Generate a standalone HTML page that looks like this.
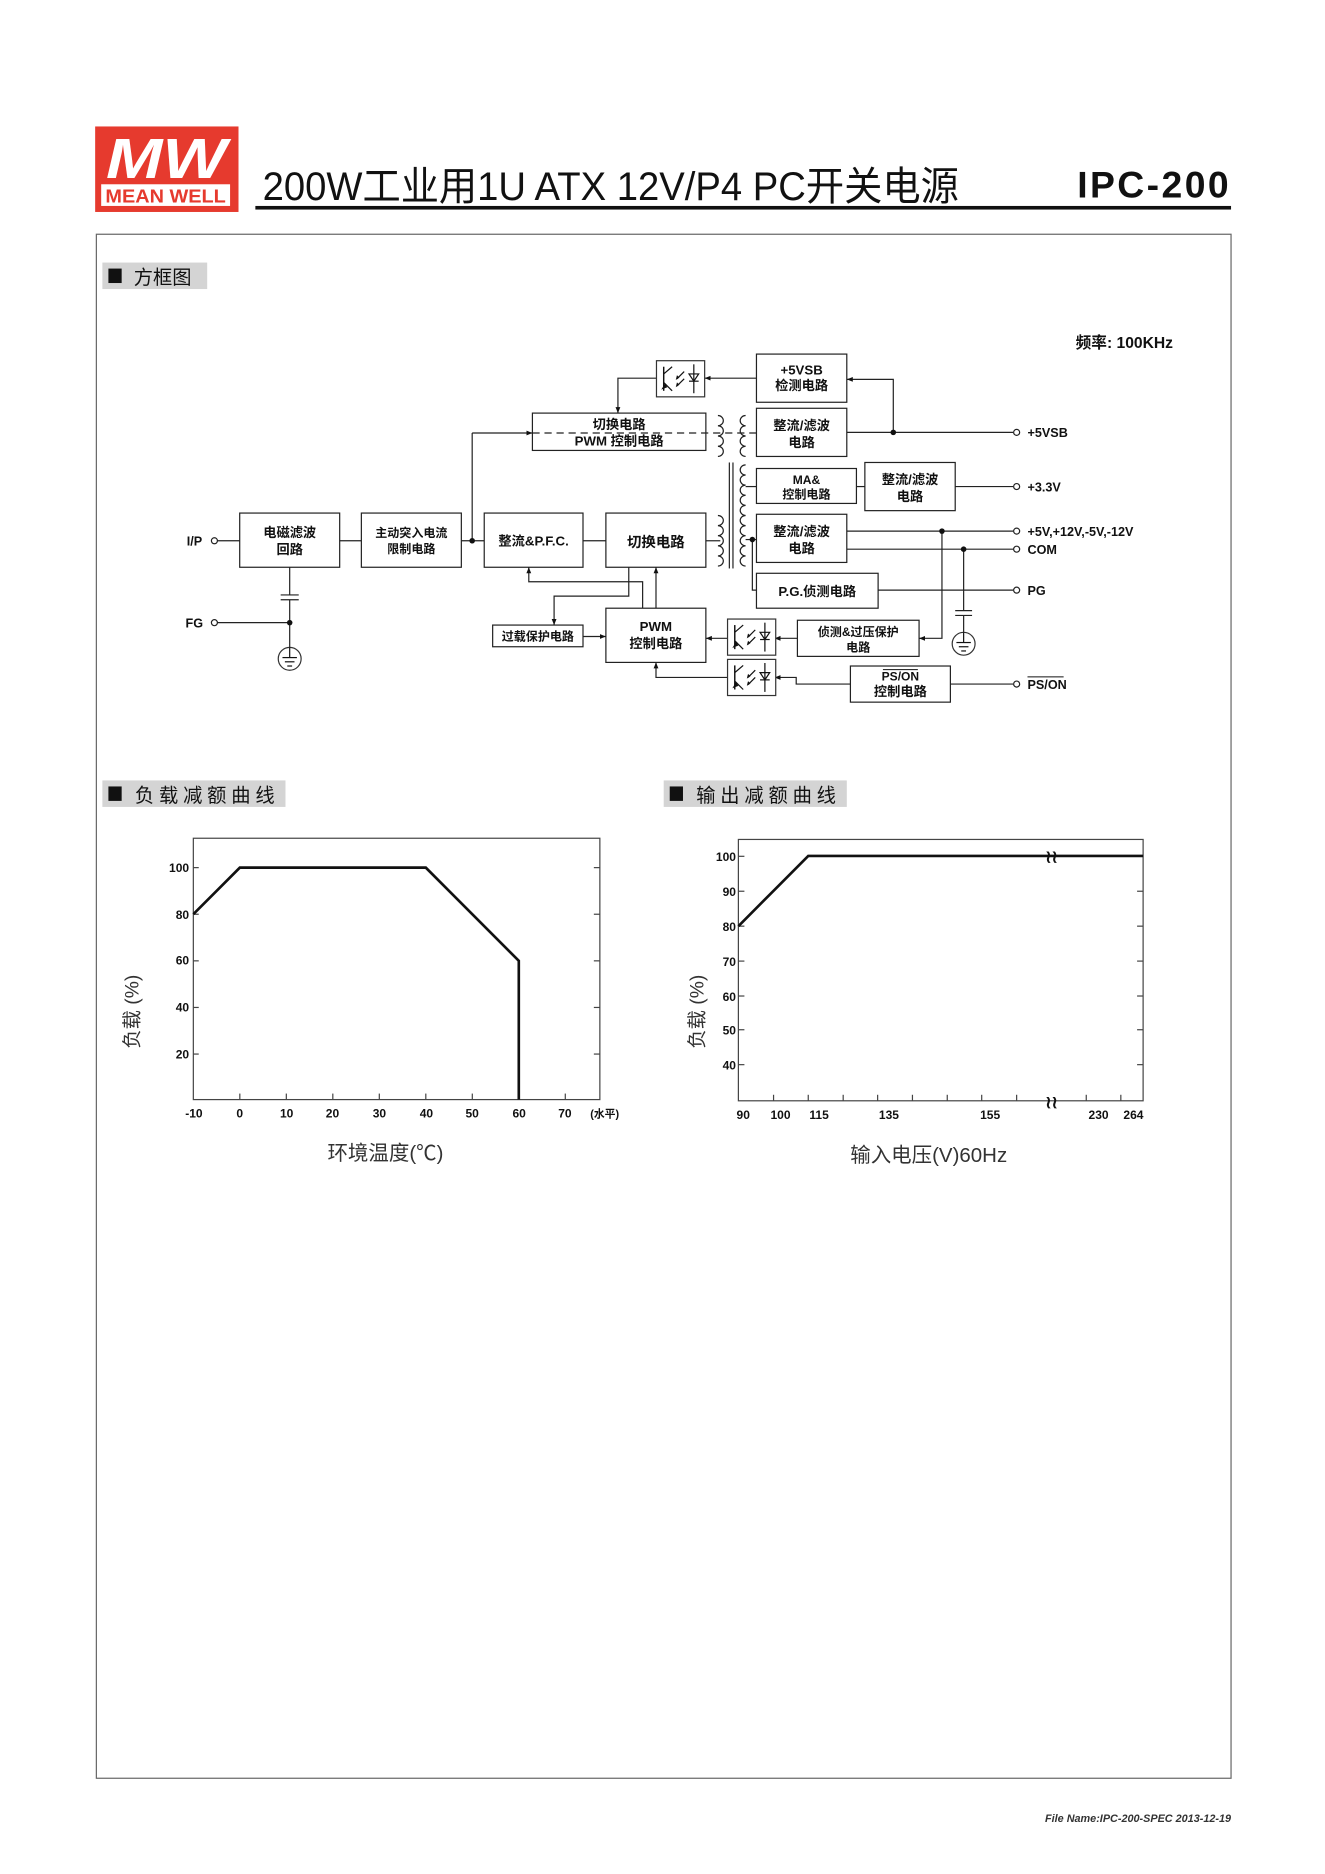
<!DOCTYPE html>
<html><head><meta charset="utf-8"><style>
html,body{margin:0;padding:0;background:#fff;}
svg{display:block;}
text{font-family:"Liberation Sans","Noto Sans CJK SC",sans-serif;fill:#111;}
.b{font-weight:bold;}
</style></head><body>
<svg width="1325" height="1874" viewBox="0 0 1100 1556" preserveAspectRatio="none" xmlns="http://www.w3.org/2000/svg">
<defs>
<marker id="ar" markerWidth="6" markerHeight="6" refX="5" refY="3" orient="auto" markerUnits="userSpaceOnUse"><path d="M0,1 L5,3 L0,5 z" fill="#111"/></marker>
<g id="opto">
<rect x="0" y="0" width="40" height="30" fill="#fff" stroke="#333" stroke-width="1"/>
<line x1="6" y1="5" x2="6" y2="25" stroke="#111" stroke-width="1.2"/>
<line x1="6" y1="11" x2="13" y2="5" stroke="#111" stroke-width="1"/>
<line x1="6" y1="18" x2="13" y2="25" stroke="#111" stroke-width="1"/>
<path d="M4,24 L7,19 L9,22 z" fill="#111"/>
<line x1="23" y1="9" x2="17" y2="15" stroke="#111"/>
<path d="M16,16 L17,12 L19,14 z" fill="#111"/>
<line x1="23" y1="15" x2="17" y2="21" stroke="#111"/>
<path d="M16,22 L17,18 L19,20 z" fill="#111"/>
<line x1="31" y1="3" x2="31" y2="27" stroke="#111"/>
<path d="M27,11 L35,11 L31,17 z" fill="none" stroke="#111"/>
<line x1="27" y1="17" x2="35" y2="17" stroke="#111"/>
</g>
<g id="gnd">
<circle cx="0" cy="0" r="9.5" fill="#fff" stroke="#333" stroke-width="1"/>
<line x1="0" y1="-9.5" x2="0" y2="-1" stroke="#111"/>
<line x1="-6" y1="-1" x2="6" y2="-1" stroke="#111"/>
<line x1="-4" y1="2.5" x2="4" y2="2.5" stroke="#111"/>
<line x1="-2" y1="6" x2="2" y2="6" stroke="#111"/>
</g>
</defs>

<!-- Logo -->
<rect x="79" y="105" width="119" height="71" fill="#e63a2e"/>
<text x="138" y="148" text-anchor="middle" font-size="47" font-style="italic" class="b" style="fill:#fff" textLength="100" lengthAdjust="spacingAndGlyphs">MW</text>
<rect x="84" y="153" width="107" height="18" fill="#fff"/>
<text x="137.5" y="168" text-anchor="middle" font-size="15" class="b" style="fill:#e63a2e" textLength="100" lengthAdjust="spacingAndGlyphs">MEAN WELL</text>

<!-- Title -->
<text x="218" y="166" font-size="33" textLength="578" lengthAdjust="spacingAndGlyphs">200W工业用1U ATX 12V/P4 PC开关电源</text>
<text x="1022" y="164" font-size="31" class="b" text-anchor="end" letter-spacing="2">IPC-200</text>
<rect x="212" y="171" width="810" height="3" fill="#111"/>

<!-- Border -->
<rect x="80" y="194.5" width="942" height="1282" fill="none" stroke="#666" stroke-width="1"/>

<!-- Section headers -->
<rect x="85" y="218" width="87" height="22" fill="#d4d4d4"/>
<rect x="90" y="223" width="11" height="12" fill="#111"/>
<text x="111" y="236" font-size="16">方框图</text>

<rect x="85" y="648" width="152" height="22" fill="#d4d4d4"/>
<rect x="90" y="653" width="11" height="12" fill="#111"/>
<text x="112" y="666" font-size="16" letter-spacing="4">负载减额曲线</text>

<rect x="551" y="648" width="152" height="22" fill="#d4d4d4"/>
<rect x="556" y="653" width="11" height="12" fill="#111"/>
<text x="578" y="666" font-size="16" letter-spacing="4">输出减额曲线</text>

<text x="893" y="289" font-size="13" class="b">频率: 100KHz</text>

<!-- ===== Block diagram ===== -->
<g stroke="#222" stroke-width="1" fill="none">
<rect x="199" y="426" width="83" height="45"/>
<rect x="300" y="426" width="83" height="45"/>
<rect x="402" y="426" width="82" height="45"/>
<rect x="503" y="426" width="83" height="45"/>
<rect x="442" y="343" width="144" height="31"/>
<rect x="628" y="294" width="75" height="40"/>
<rect x="628" y="339" width="75" height="40"/>
<rect x="628" y="389" width="83" height="29"/>
<rect x="718" y="384" width="75" height="40"/>
<rect x="628" y="427" width="75" height="40"/>
<rect x="628" y="476" width="101" height="29"/>
<rect x="409" y="519" width="75" height="18"/>
<rect x="503" y="505" width="83" height="45"/>
<rect x="662" y="515" width="101" height="30"/>
<rect x="706" y="553" width="83" height="30"/>

<line x1="180" y1="449" x2="199" y2="449"/>
<line x1="282" y1="449" x2="300" y2="449"/>
<line x1="383" y1="449" x2="402" y2="449"/>
<line x1="484" y1="449" x2="503" y2="449"/>
<line x1="392" y1="449" x2="392" y2="359.5"/>
<line x1="392" y1="359.5" x2="442" y2="359.5" marker-end="url(#ar)"/>
<line x1="442" y1="359.5" x2="628" y2="359.5" stroke-dasharray="6,4"/>
<line x1="240.5" y1="471" x2="240.5" y2="494"/>
<line x1="233" y1="494" x2="248" y2="494"/>
<line x1="233" y1="498" x2="248" y2="498"/>
<line x1="240.5" y1="498" x2="240.5" y2="537.5"/>
<line x1="180" y1="517" x2="240.5" y2="517"/>
<line x1="628" y1="314" x2="585" y2="314" marker-end="url(#ar)"/>
<polyline points="545,314 513,314 513,343" marker-end="url(#ar)"/>
<line x1="703" y1="359" x2="841" y2="359"/>
<polyline points="741.6,359 741.6,315 703,315" marker-end="url(#ar)"/>
<line x1="711" y1="404" x2="718" y2="404"/>
<line x1="793" y1="404" x2="841" y2="404"/>
<line x1="586" y1="449" x2="598" y2="449"/>
<line x1="619" y1="404" x2="628" y2="404"/>
<line x1="619" y1="448" x2="628" y2="448"/>
<line x1="703" y1="441" x2="841" y2="441"/>
<line x1="703" y1="456" x2="841" y2="456"/>
<polyline points="624.6,448 624.6,490 628,490"/>
<line x1="729" y1="490" x2="841" y2="490"/>
<polyline points="782,441 782,530 763,530" marker-end="url(#ar)"/>
<line x1="800" y1="456" x2="800" y2="507"/>
<line x1="793" y1="507" x2="807" y2="507"/>
<line x1="793" y1="511" x2="807" y2="511"/>
<line x1="800" y1="511" x2="800" y2="525"/>
<line x1="662" y1="530" x2="643" y2="530" marker-end="url(#ar)"/>
<line x1="604" y1="530" x2="586" y2="530" marker-end="url(#ar)"/>
<polyline points="706,568 661,568 661,562.5 643,562.5" marker-end="url(#ar)"/>
<line x1="789" y1="568" x2="841" y2="568"/>
<polyline points="604,562.5 544.6,562.5 544.6,550" marker-end="url(#ar)"/>
<polyline points="533.5,505 533.5,483 439,483 439,471" marker-end="url(#ar)"/>
<polyline points="522,471 522,495 460,495 460,519" marker-end="url(#ar)"/>
<line x1="544.6" y1="505" x2="544.6" y2="471" marker-end="url(#ar)"/>
<line x1="484" y1="528.5" x2="503" y2="528.5" marker-end="url(#ar)"/>

<path d="M596,345 a4.5,4.25 0 0 1 0,8.5 a4.5,4.25 0 0 1 0,8.5 a4.5,4.25 0 0 1 0,8.5 a4.5,4.25 0 0 1 0,8.5"/>
<path d="M619,345 a4.5,4.25 0 0 0 0,8.5 a4.5,4.25 0 0 0 0,8.5 a4.5,4.25 0 0 0 0,8.5 a4.5,4.25 0 0 0 0,8.5"/>
<line x1="605.5" y1="384" x2="605.5" y2="472"/>
<line x1="608.5" y1="384" x2="608.5" y2="472"/>
<path d="M596,428 a4.5,4.2 0 0 1 0,8.4 a4.5,4.2 0 0 1 0,8.4 a4.5,4.2 0 0 1 0,8.4 a4.5,4.2 0 0 1 0,8.4 a4.5,4.2 0 0 1 0,8.4"/>
<path d="M619,386 a4.5,4.2 0 0 0 0,8.4 a4.5,4.2 0 0 0 0,8.4 a4.5,4.2 0 0 0 0,8.4 a4.5,4.2 0 0 0 0,8.4 a4.5,4.2 0 0 0 0,8.4 M619,428 a4.5,4.2 0 0 0 0,8.4 a4.5,4.2 0 0 0 0,8.4 a4.5,4.2 0 0 0 0,8.4 a4.5,4.2 0 0 0 0,8.4 a4.5,4.2 0 0 0 0,8.4"/>

<circle cx="178" cy="449" r="2.5" fill="#fff"/>
<circle cx="178" cy="517" r="2.5" fill="#fff"/>
<circle cx="844" cy="359" r="2.5" fill="#fff"/>
<circle cx="844" cy="404" r="2.5" fill="#fff"/>
<circle cx="844" cy="441" r="2.5" fill="#fff"/>
<circle cx="844" cy="456" r="2.5" fill="#fff"/>
<circle cx="844" cy="490" r="2.5" fill="#fff"/>
<circle cx="844" cy="568" r="2.5" fill="#fff"/>
</g>
<g fill="#111">
<circle cx="392" cy="449" r="2.3"/>
<circle cx="240.5" cy="517" r="2.3"/>
<circle cx="741.6" cy="359" r="2.3"/>
<circle cx="624.6" cy="448" r="2.3"/>
<circle cx="782" cy="441" r="2.3"/>
<circle cx="800" cy="456" r="2.3"/>
</g>
<use href="#gnd" x="240.5" y="547"/>
<use href="#gnd" x="800" y="534.5"/>
<use href="#opto" x="545" y="299.5"/>
<use href="#opto" x="604" y="514"/>
<use href="#opto" x="604" y="547.5"/>

<g class="b" font-size="11" text-anchor="middle">
<text x="240.5" y="446">电磁滤波</text><text x="240.5" y="460">回路</text>
<text x="341.5" y="446" font-size="10">主动突入电流</text><text x="341.5" y="459" font-size="10">限制电路</text>
<text x="443" y="453">整流&amp;P.F.C.</text>
<text x="544.5" y="454" font-size="12">切换电路</text>
<text x="514" y="356">切换电路</text><text x="514" y="370">PWM 控制电路</text>
<text x="665.5" y="311">+5VSB</text><text x="665.5" y="324">检测电路</text>
<text x="665.5" y="357">整流/滤波</text><text x="665.5" y="371">电路</text>
<text x="669.5" y="402" font-size="10">MA&amp;</text><text x="669.5" y="414" font-size="10">控制电路</text>
<text x="755.5" y="402">整流/滤波</text><text x="755.5" y="416">电路</text>
<text x="665.5" y="445">整流/滤波</text><text x="665.5" y="459">电路</text>
<text x="678.5" y="495">P.G.侦测电路</text>
<text x="446.5" y="532" font-size="10">过载保护电路</text>
<text x="544.5" y="524">PWM</text><text x="544.5" y="538">控制电路</text>
<text x="712.5" y="528" font-size="10">侦测&amp;过压保护</text><text x="712.5" y="541" font-size="10">电路</text>
<text x="747.5" y="565" font-size="10">PS/ON</text><text x="747.5" y="578">控制电路</text>
</g>
<line x1="733" y1="556" x2="762" y2="556" stroke="#111" stroke-width="0.8"/>
<g class="b" font-size="10.5">
<text x="155" y="453">I/P</text>
<text x="154" y="521">FG</text>
<text x="853" y="363">+5VSB</text>
<text x="853" y="408">+3.3V</text>
<text x="853" y="445">+5V,+12V,-5V,-12V</text>
<text x="853" y="460">COM</text>
<text x="853" y="494">PG</text>
<text x="853" y="572">PS/ON</text>
</g>
<line x1="853" y1="562" x2="883" y2="562" stroke="#111" stroke-width="0.8"/>

<!-- ===== Left chart ===== -->
<g stroke="#444" stroke-width="1" fill="none">
<rect x="160.5" y="696" width="337.5" height="217"/>
<line x1="160.5" y1="720.4" x2="165" y2="720.4"/><line x1="498" y1="720.4" x2="493" y2="720.4"/>
<line x1="160.5" y1="759.1" x2="165" y2="759.1"/><line x1="498" y1="759.1" x2="493" y2="759.1"/>
<line x1="160.5" y1="797.8" x2="165" y2="797.8"/><line x1="498" y1="797.8" x2="493" y2="797.8"/>
<line x1="160.5" y1="836.5" x2="165" y2="836.5"/><line x1="498" y1="836.5" x2="493" y2="836.5"/>
<line x1="160.5" y1="875.2" x2="165" y2="875.2"/><line x1="498" y1="875.2" x2="493" y2="875.2"/>
<line x1="199.1" y1="913" x2="199.1" y2="908"/>
<line x1="237.7" y1="913" x2="237.7" y2="908"/>
<line x1="276.3" y1="913" x2="276.3" y2="908"/>
<line x1="314.9" y1="913" x2="314.9" y2="908"/>
<line x1="353.5" y1="913" x2="353.5" y2="908"/>
<line x1="392.1" y1="913" x2="392.1" y2="908"/>
<line x1="430.7" y1="913" x2="430.7" y2="908"/>
<line x1="469.3" y1="913" x2="469.3" y2="908"/>
</g>
<polyline points="160.5,759.1 199.1,720.4 353.5,720.4 430.7,797.8 430.7,913" fill="none" stroke="#111" stroke-width="2.2"/>
<g class="b" font-size="10" text-anchor="end">
<text x="157" y="724">100</text><text x="157" y="763">80</text><text x="157" y="801">60</text><text x="157" y="840">40</text><text x="157" y="879">20</text>
</g>
<g class="b" font-size="10" text-anchor="middle">
<text x="161" y="928">-10</text><text x="199" y="928">0</text><text x="238" y="928">10</text><text x="276" y="928">20</text><text x="315" y="928">30</text><text x="354" y="928">40</text><text x="392" y="928">50</text><text x="431" y="928">60</text><text x="469" y="928">70</text>
<text x="502" y="928" font-size="9">(水平)</text>
</g>
<text x="320" y="963" font-size="17" text-anchor="middle" style="fill:#333">环境温度(℃)</text>
<text transform="translate(115,840) rotate(-90)" font-size="16" text-anchor="middle" style="fill:#333">负载 (%)</text>

<!-- ===== Right chart ===== -->
<g stroke="#444" stroke-width="1" fill="none">
<rect x="613" y="697" width="336" height="217"/>
<line x1="949" y1="740" x2="944" y2="740"/>
<line x1="949" y1="769" x2="944" y2="769"/><line x1="613" y1="769" x2="618" y2="769"/>
<line x1="949" y1="798" x2="944" y2="798"/><line x1="613" y1="798" x2="618" y2="798"/>
<line x1="949" y1="827" x2="944" y2="827"/><line x1="613" y1="827" x2="618" y2="827"/>
<line x1="949" y1="855" x2="944" y2="855"/><line x1="613" y1="855" x2="618" y2="855"/>
<line x1="949" y1="884" x2="944" y2="884"/><line x1="613" y1="884" x2="618" y2="884"/>
<line x1="613" y1="740" x2="618" y2="740"/><line x1="613" y1="711" x2="618" y2="711"/>
<line x1="642.2" y1="914" x2="642.2" y2="909"/>
<line x1="671" y1="914" x2="671" y2="909"/>
<line x1="700" y1="914" x2="700" y2="909"/>
<line x1="728.6" y1="914" x2="728.6" y2="909"/>
<line x1="757.5" y1="914" x2="757.5" y2="909"/>
<line x1="786.4" y1="914" x2="786.4" y2="909"/>
<line x1="815" y1="914" x2="815" y2="909"/>
<line x1="844" y1="914" x2="844" y2="909"/>
<line x1="901.8" y1="914" x2="901.8" y2="909"/>
<line x1="930.5" y1="914" x2="930.5" y2="909"/>
</g>
<polyline points="613,769 671,710.7 949,710.7" fill="none" stroke="#111" stroke-width="2.2"/>
<g class="b" font-size="14" text-anchor="middle">
<text x="873" y="716">≀≀</text>
<text x="873" y="920">≀≀</text>
</g>
<g class="b" font-size="10" text-anchor="end">
<text x="611" y="715">100</text><text x="611" y="744">90</text><text x="611" y="773">80</text><text x="611" y="802">70</text><text x="611" y="831">60</text><text x="611" y="859">50</text><text x="611" y="888">40</text>
</g>
<g class="b" font-size="10" text-anchor="middle">
<text x="617" y="929">90</text><text x="648" y="929">100</text><text x="680" y="929">115</text><text x="738" y="929">135</text><text x="822" y="929">155</text><text x="912" y="929">230</text><text x="941" y="929">264</text>
</g>
<text x="771" y="965" font-size="17" text-anchor="middle" style="fill:#333">输入电压(V)60Hz</text>
<text transform="translate(584,840) rotate(-90)" font-size="16" text-anchor="middle" style="fill:#333">负载 (%)</text>

<!-- footer -->
<text x="1022" y="1513" font-size="9" class="b" font-style="italic" text-anchor="end" style="fill:#333">File Name:IPC-200-SPEC   2013-12-19</text>
</svg>
</body></html>
